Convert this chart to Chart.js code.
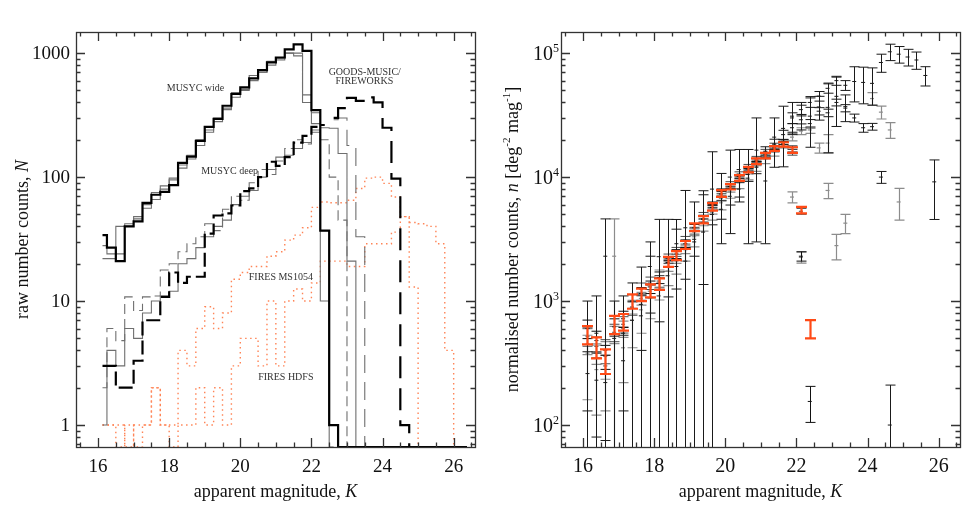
<!DOCTYPE html>
<html>
<head>
<meta charset="utf-8">
<script src="https://cdn.jsdelivr.net/npm/chart.js@4.4.0/dist/chart.umd.min.js"></script>
<style>
  html, body { margin: 0; padding: 0; background: #fff; }
  #wrap { position: relative; width: 970px; height: 512px; }
  canvas { position: absolute; top: 0; }
</style>
</head>
<body>
<div id="wrap">
  <canvas id="left" width="485" height="512" style="left:0"></canvas>
  <canvas id="right" width="485" height="512" style="left:485px"></canvas>
</div>
<script>
// bin centres (0.25 mag bins), shared by both panels
var BINS = [16.125, 16.375, 16.625, 16.875, 17.125, 17.375, 17.625, 17.875, 18.125, 18.375,
            18.625, 18.875, 19.125, 19.375, 19.625, 19.875, 20.125, 20.375, 20.625, 20.875,
            21.125, 21.375, 21.625, 21.875, 22.125, 22.375, 22.625, 22.875, 23.125, 23.375,
            23.625, 23.875, 24.125, 24.375, 24.625, 24.875, 25.125, 25.375, 25.625, 25.875,
            26.125, 26.375];
var X_TICKS = [16, 18, 20, 22, 24, 26];
var L_Y_TICKS = [1, 10, 100, 1000];
var R_Y_TICKS = [100, 1000, 10000, 100000];

// ---- left panel: raw counts per bin ----
var WIDE_MAIN = [34, 27, 21, 40, 44, 62, 72, 76, 86, 130, 146, 196, 254, 295, 376, 468, 529, 625, 729, 841,
                 922, 1071, 1175, 1043, 347, 37, 1, 0, 0, 0, 0, 0, 0, 0, 0, 0, 0, 0, 0, 0, 0, 0];
var WIDE_F2 = [28, 24, 40, 42, 48, 56, 75, 85, 95, 118, 150, 180, 240, 280, 350, 440, 510, 600, 700, 800,
               900, 1000, 1000, 460, 330, 37, 1, 0];
var WIDE_F3 = [22, 22, 24, 40, 46, 60, 66, 80, 98, 125, 140, 200, 230, 300, 360, 480, 500, 660, 700, 860,
               880, 1000, 950, 400, 270, 10, 0];
var DEEP_MAIN = [3, 3, 2, 2, 3.3, 7, 7, 10.8, 17, 14, 15.7, 15.7, 35, 49, 51, 59, 77, 81, 100, 133,
                 123, 145, 190, 215, 254, 263];
var DEEP_F2 = [1, 4, 3, 6, 5, 8, 10, 11, 12, 20, 22, 27, 33, 40, 45, 60, 70, 78, 100, 115,
               145, 150, 170, 190, 240, 250, 248, 155, 21, 0];
var DEEP_F3 = [2, 6, 4.8, 10.8, 8.4, 10.8, 11, 17.8, 20, 25, 29, 33, 42, 37, 55, 70, 65, 90, 115, 105,
               135, 170, 200, 185, 230, 200, 100, 45, 0];
var GOODS_MAIN = [null, null, null, null, null, null, null, null, null, null, null, null, null, null, null, null,
                  null, null, null, null, null, null, null, null, null, null,
                  300, 360, 435, 412, 440, 400, 250, 97, 1, 0];
var GOODS_F2 = [null, null, null, null, null, null, null, null, null, null, null, null, null, null, null, null,
                null, null, null, null, null, null, null, null, null, null,
                290, 300, 180, 33, 0];
var FIRES_MS1054 = [1, 1, 1, 0, 1, 1, 2, 1, 1, 4, 3, 6, 9, 6, 8, 15, 17, 19, 19, 23,
                    25, 31, 34, 39, 57, 63, 62, 62, 65, 81, 98, 100, 89, 69, 48, 43, 42, 40, 29, 4, 0];
var FIRES_HDFS = [1, 1, 0, 1, 0, 1, 2, 1, 0, 1, 1, 2, 1, 2, 1, 3, 5, 5, 3, 10,
                  3, 10, 12.5, 10, 14, 21, 21, 21, 19, 19, 29, 29, 29, 36, 48, 13, 0];

// ---- right panel: normalised counts with errors ----
var R_ORANGE_LO = [447, 345, 258, 542, 577, 867, 1000, 1070, 1230, 1890, 2140, 2630, 3670, 4240, 5370, 6920,
                   7940, 9330, 10900, 12730, 14130, 16300, 17580, 15700, 5090, 500];
var R_ORANGE_HI = [628, 509, 408, 759, 786, 1133, 1260, 1364, 1524, 2275, 2530, 3050, 4240, 4850, 6170, 7850,
                   8770, 10380, 12100, 14130, 15700, 17800, 19100, 17400, 5750, 703];
var R_WIDE1 = [600, 480, 360, 620, 720, 1000, 1150, 1300, 1550, 2050, 2400, 2900, 3900, 4600, 5700, 7300,
               8400, 10100, 11600, 13700, 15300, 17200, 18800, 17300, 2300, 155];
var R_WIDE1_ERR = [102, 91, 79, 99, 108, 127, 136, 150, 167, 180, 199, 206, 246, 267, 296, 336,
                   361, 404, 429, 466, 505, 533, 545, 536, 200, 50];
var R_WIDE2 = [450, 380, 300, 540, 600, 900, 1050, 1200, 1400, 1900, 2200, 2600, 3600, 4300, 5300, 6800,
               7900, 9400, 11000, 12800, 14500, 16400, 17800, 6900, 2250];
var R_WIDE2_ERR = [80, 72, 66, 86, 90, 114, 124, 138, 151, 167, 183, 185, 227, 250, 276, 313,
                   340, 376, 407, 435, 479, 508, 516, 700, 230];
var R_WIDE3 = [520, 430, 400, 560, 650, 880, 1250, 1400, 1450, 2200, 2500, 3100, 3700, 4900, 6000, 7700,
               8800, 10600, 12200, 14200, 16200, 18200, 19500, 15500, 5300];
var R_WIDE3_ERR = [88, 82, 88, 90, 98, 112, 148, 161, 157, 194, 208, 220, 233, 284, 312, 354,
                   378, 424, 451, 483, 535, 564, 566, 480, 290];
var R_HDFS = [500, 550, 2300, null, 550, null, 940, 1900, 2280, 2280, 2900, 3900, 3150, 4560, 8000, 6800,
              10000, 11500, 9800, 16500, 9300, 21000, 24700, 31000, 32000, 31000, 36800, 36500, 44800, 37000];
var R_HDFS_ERR = [500, 550, 2300, null, 550, null, 940, 1100, 2280, 2280, 1650, 3900, 3150, 3200, 8000, 3900,
                  6500, 5200, 6900, 13500, 6400, 9000, 12600, 9000, 8000, 13600, 8000, 20800, 19200, 9000];
var R_DEEP = [380, 280, 300, 2300, 420, 700, 850, 1050, 1400, 1750, 2100, 2600, 3300, 4300, 5200, 6200,
              7600, 9000, 10500, 12200, 14000, 16000, 18500, 21000, 23500, 24000, 17200, 7800, 2800];
var R_DEEP_ERR = [220, 160, 170, 2300, 200, 280, 300, 330, 380, 420, 450, 500, 560, 640, 700, 770,
                  850, 930, 1000, 1080, 1150, 1230, 1320, 1400, 1500, 1500, 1600, 1100, 650];
var R_MS = [260, 230, 220, 500, 330, 700, 760, 1150, 1100, 1600, 1900, 2100, 3000, 3600, 5000, 5500,
            7000, 8000, 10500, 12000, 16000, 18500, 22000, 25000, 29000, 27000, 34000, 33000, 40000, 36000,
            30000, 25000, 25500, 10000, 100];
var R_MS_ERR = [130, 150, 145, 500, 200, 700, 360, 1150, 420, 520, 1900, 600, 700, 3600, 880, 930,
                1050, 1100, 1270, 1350, 1560, 1700, 1850, 2000, 2150, 2100, 2300, 2300, 2500, 2400,
                2200, 2000, 1600, 1100, 110];
var R_GOODS = [null, null, null, null, null, null, null, null, null, null, null, null, null, null, null, null,
               null, null, null, null, null, null, null,
               30000, 35000, 40000, 45000, 52000, 60000, 55000, 59000, 58000, 57000, 84000, 102500, 98000,
               93000, 88000, 66000, 9150];
var R_GOODS_ERR = [null, null, null, null, null, null, null, null, null, null, null, null, null, null, null, null,
                   null, null, null, null, null, null, null,
                   3000, 3000, 3500, 4000, 4500, 5000, 5000, 18600, 19000, 19000, 14000, 15500, 15000,
                   14300, 14000, 11700, 4600];
var R_FAINT = [null, null, null, null, null, null, null, null, null, null, null, null, null, null, null, null,
               null, null, null, null, null, null, null, null, null, null, null,
               18800, null, 4250, null, null, 43000, 33400, 24000, 6300];
var R_FAINT_ERR = [null, null, null, null, null, null, null, null, null, null, null, null, null, null, null, null,
                   null, null, null, null, null, null, null, null, null, null, null,
                   3200, null, 750, null, null, 5000, 4000, 3500, 1800];

var X_MIN = 15.38, X_MAX = 26.6;
var L_YMIN = 0.665, L_YMAX = 1480;
var R_YMIN = 66.5, R_YMAX = 148000;
var FONT = '"Liberation Serif", "DejaVu Serif", serif';
var ORANGE = '#ff4a16';

function rich(ctx, parts, x, y, size, align, rot) {
  ctx.save();
  ctx.translate(x, y);
  if (rot) ctx.rotate(rot);
  var font = function (p) {
    return (p[1] === 'i' ? 'italic ' : '') + (p[1] === 's' ? Math.round(size * 0.62) : size) + 'px ' + FONT;
  };
  var w = 0;
  parts.forEach(function (p) { ctx.font = font(p); w += ctx.measureText(p[0]).width; });
  var cx = align === 'right' ? -w : (align === 'center' ? -w / 2 : 0);
  ctx.textAlign = 'left';
  ctx.textBaseline = 'alphabetic';
  parts.forEach(function (p) {
    ctx.font = font(p);
    ctx.fillText(p[0], cx, p[1] === 's' ? -size * 0.42 : 0);
    cx += ctx.measureText(p[0]).width;
  });
  ctx.restore();
}

// IDL-like box with inward ticks, labels and titles
function frame(cfg) {
  return {
    id: 'frame',
    afterDraw: function (chart) {
      var ctx = chart.ctx, a = chart.chartArea, xs = chart.scales.x, ys = chart.scales.y;
      ctx.save();
      ctx.strokeStyle = '#333';
      ctx.lineWidth = 1.3;
      ctx.beginPath();
      for (var v = 15.5; v <= 26.51; v += 0.5) {
        var x = Math.round(xs.getPixelForValue(v)) + 0.5;
        var len = X_TICKS.indexOf(v) >= 0 ? 9 : 4.5;
        ctx.moveTo(x, a.bottom); ctx.lineTo(x, a.bottom - len);
        ctx.moveTo(x, a.top); ctx.lineTo(x, a.top + len);
      }
      for (var d = Math.floor(Math.log10(ys.min)); d <= Math.ceil(Math.log10(ys.max)); d++) {
        for (var k = 1; k <= 9; k++) {
          var val = k * Math.pow(10, d);
          if (val < ys.min || val > ys.max) continue;
          var y = Math.round(ys.getPixelForValue(val)) + 0.5;
          var l2 = k === 1 ? 9 : 4.5;
          ctx.moveTo(a.left, y); ctx.lineTo(a.left + l2, y);
          ctx.moveTo(a.right, y); ctx.lineTo(a.right - l2, y);
        }
      }
      ctx.stroke();
      ctx.strokeRect(a.left + 0.5, a.top + 0.5, a.right - a.left, a.bottom - a.top);

      ctx.fillStyle = '#111';
      ctx.font = cfg.tickSize + 'px ' + FONT;
      ctx.textAlign = 'center';
      ctx.textBaseline = 'alphabetic';
      X_TICKS.forEach(function (t) { ctx.fillText(String(t), xs.getPixelForValue(t), a.bottom + 25); });
      cfg.yLabels(ctx, ys, a);
      rich(ctx, [['apparent magnitude, ', ''], ['K', 'i']], (a.left + a.right) / 2, 497, 18, 'center', 0);
      rich(ctx, cfg.yTitle, cfg.yTitleX, (a.top + a.bottom) / 2, 18, 'center', -Math.PI / 2);
      if (cfg.notes) {
        ctx.fillStyle = '#333';
        ctx.font = '10px ' + FONT;
        ctx.textAlign = 'center';
        cfg.notes.forEach(function (n) {
          ctx.fillText(n.t, xs.getPixelForValue(n.x), ys.getPixelForValue(n.y) + 3);
        });
      }
      ctx.restore();
    }
  };
}

// error bars for scatter datasets carrying errLo / errHi
var errorBars = {
  id: 'errorBars',
  afterDatasetDraw: function (chart, args) {
    var ds = chart.data.datasets[args.index];
    if (!ds.errLo) return;
    var ctx = chart.ctx, a = chart.chartArea, xs = chart.scales.x, ys = chart.scales.y;
    ctx.save();
    ctx.beginPath();
    ctx.rect(a.left, a.top, a.right - a.left, a.bottom - a.top);
    ctx.clip();
    ctx.strokeStyle = ds.barColor;
    ctx.lineWidth = ds.barWidth;
    ctx.beginPath();
    ds.data.forEach(function (p, i) {
      var x = Math.round(xs.getPixelForValue(p.x)) + 0.5;
      var yh = ys.getPixelForValue(ds.errHi[i]);
      var lo = ds.errLo[i];
      var yl = lo > ys.min ? ys.getPixelForValue(lo) : a.bottom + 10;
      ctx.moveTo(x, yl); ctx.lineTo(x, yh);
      ctx.moveTo(x - ds.cap, yh); ctx.lineTo(x + ds.cap, yh);
      if (lo > ys.min) { ctx.moveTo(x - ds.cap, yl); ctx.lineTo(x + ds.cap, yl); }
    });
    ctx.stroke();
    ctx.restore();
  }
};

function hist(vals, color, width, dash) {
  return {
    data: vals.map(function (v, i) { return { x: BINS[i], y: v === 0 ? L_YMIN : v }; }),
    borderColor: color,
    borderWidth: width,
    borderDash: dash || [],
    stepped: 'middle',
    pointRadius: 0,
    fill: false
  };
}

function bars(vals, errs, color, width) {
  var pts = [], lo = [], hi = [];
  vals.forEach(function (v, i) {
    if (v === null || v === undefined) return;
    pts.push({ x: BINS[i], y: v });
    lo.push(v - errs[i]);
    hi.push(v + errs[i]);
  });
  return {
    data: pts, errLo: lo, errHi: hi, barColor: color, barWidth: width, cap: 5,
    pointStyle: 'line', pointRadius: 2, pointBorderColor: color, pointBorderWidth: width,
    showLine: false
  };
}

function orangeBars(los, his) {
  var pts = [];
  los.forEach(function (v, i) { pts.push({ x: BINS[i], y: Math.sqrt(v * his[i]) }); });
  return {
    data: pts, errLo: los, errHi: his, barColor: ORANGE, barWidth: 2.2, cap: 5.5,
    pointRadius: 0, showLine: false
  };
}

function baseOptions(ymin, ymax) {
  return {
    responsive: false,
    animation: false,
    devicePixelRatio: 1,
    layout: { padding: { left: 76, right: 10, top: 32, bottom: 65 } },
    plugins: { legend: { display: false }, tooltip: { enabled: false } },
    scales: {
      x: { type: 'linear', min: X_MIN, max: X_MAX, display: false },
      y: { type: 'logarithmic', min: ymin, max: ymax, display: false }
    }
  };
}

var GREY = '#6f6f6f';
var DOT = '#ff8456';

// Chart.js paints the first dataset on top, so the list runs front to back
new Chart(document.getElementById('left'), {
  type: 'line',
  data: {
    datasets: [
      hist(WIDE_MAIN, '#000', 2.2),
      hist(DEEP_MAIN, '#000', 2.2, [14, 5]),
      hist(GOODS_MAIN, '#000', 2.2, [22, 10]),
      hist(WIDE_F2, GREY, 1.1),
      hist(WIDE_F3, GREY, 1.1),
      hist(DEEP_F2, GREY, 1.1),
      hist(DEEP_F3, GREY, 1.1, [10, 5]),
      hist(GOODS_F2, GREY, 1.1, [18, 9]),
      hist(FIRES_MS1054, DOT, 1.4, [1.5, 3.5]),
      hist(FIRES_HDFS, DOT, 1.4, [1.5, 3.5])
    ]
  },
  options: baseOptions(L_YMIN, L_YMAX),
  plugins: [frame({
    tickSize: 19,
    yLabels: function (ctx, ys, a) {
      ctx.textAlign = 'right';
      L_Y_TICKS.forEach(function (t) { ctx.fillText(String(t), a.left - 6, ys.getPixelForValue(t) + 6); });
    },
    yTitle: [['raw number counts, ', ''], ['N', 'i']],
    yTitleX: 28,
    notes: [
      { t: 'MUSYC wide', x: 18.74, y: 522 },
      { t: 'MUSYC deep', x: 19.70, y: 112 },
      { t: 'GOODS-MUSIC/', x: 23.50, y: 703 },
      { t: 'FIREWORKS', x: 23.49, y: 594 },
      { t: 'FIRES MS1054', x: 21.14, y: 15.6 },
      { t: 'FIRES HDFS', x: 21.28, y: 2.44 }
    ]
  })]
});

var GREY_BAR = '#8c8c8c';
new Chart(document.getElementById('right'), {
  type: 'scatter',
  data: {
    datasets: [
      orangeBars(R_ORANGE_LO, R_ORANGE_HI),
      bars(R_GOODS, R_GOODS_ERR, '#1a1a1a', 1),
      bars(R_WIDE1, R_WIDE1_ERR, '#111', 1),
      bars(R_HDFS, R_HDFS_ERR, '#1a1a1a', 1),
      bars(R_MS, R_MS_ERR, '#1a1a1a', 1),
      bars(R_WIDE3, R_WIDE3_ERR, '#4a4a4a', 1),
      bars(R_FAINT, R_FAINT_ERR, GREY_BAR, 1.2),
      bars(R_WIDE2, R_WIDE2_ERR, GREY_BAR, 1.2),
      bars(R_DEEP, R_DEEP_ERR, GREY_BAR, 1.2)
    ]
  },
  options: baseOptions(R_YMIN, R_YMAX),
  plugins: [errorBars, frame({
    tickSize: 20,
    yLabels: function (ctx, ys, a) {
      R_Y_TICKS.forEach(function (t) {
        rich(ctx, [['10', ''], [String(Math.round(Math.log10(t))), 's']], a.left - 2, ys.getPixelForValue(t) + 7, 20, 'right', 0);
      });
    },
    yTitle: [['normalised number counts, ', ''], ['n', 'i'], [' [deg', ''], ['-2', 's'], [' mag', ''], ['-1', 's'], [']', '']],
    yTitleX: 33
  })]
});
</script>
</body>
</html>
